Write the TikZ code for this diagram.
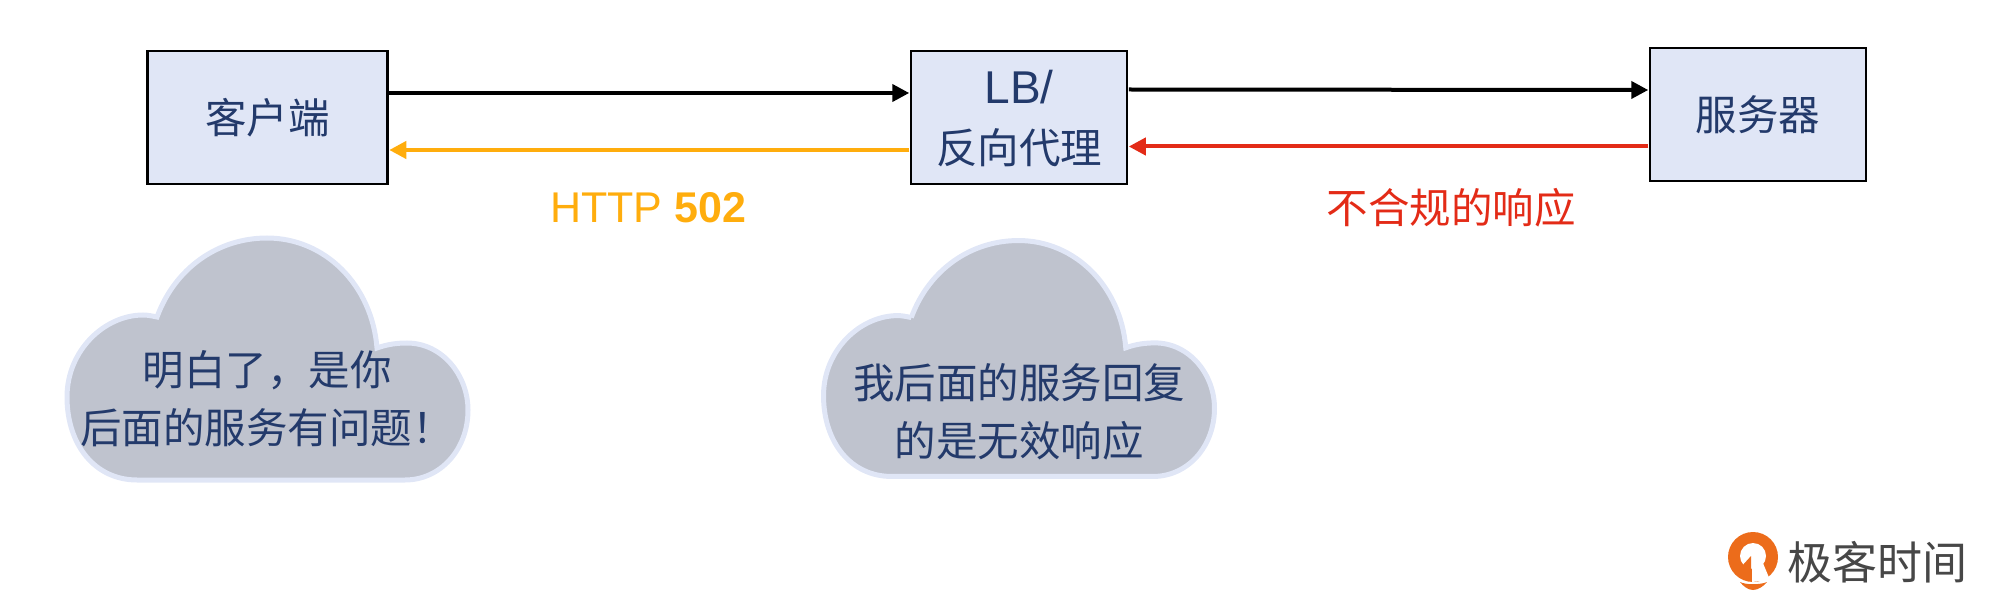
\documentclass[tikz,border=0pt]{standalone}
\usepackage{fontspec}
\usetikzlibrary{arrows.meta}
\setmainfont{Liberation Sans}
\newfontfamily\cjk{Noto Sans CJK SC}
\definecolor{boxfill}{HTML}{E0E6F6}
\definecolor{inktext}{HTML}{233A6B}
\definecolor{cloudfill}{HTML}{BFC3CE}
\definecolor{respyellow}{HTML}{FFAD0D}
\definecolor{respred}{HTML}{E32B17}
\definecolor{logoorange}{HTML}{EC6C1B}
\tikzset{
    hostbox/.style={draw=black,line width=2.5pt,fill=boxfill,text=inktext,inner sep=0pt,
        minimum height=133pt,align=center,font=\fontsize{41.5}{58}\selectfont\cjk},
    msgline/.style={line width=4pt,shorten >=.5pt,shorten <=.5pt,-{Triangle[length=17pt,width=17pt]}},
    cloudtext/.style={text=inktext,align=center,inner sep=0pt,font=\fontsize{41.5}{58}\selectfont\cjk},
    cloudshape/.pic={
        \draw[draw=boxfill,fill=cloudfill,line width=5pt] (-110.5,-42)
            .. controls (-92.5,-91) and (-49.5,-121) .. (-.5,-121)
            .. controls (57.5,-121) and (104.5,-74) .. (109.5,-11)
            .. controls (120.5,-15) and (130.5,-16) .. (139.5,-16)
            .. controls (174.5,-16) and (200.5,16) .. (200.5,51)
            .. controls (200.5,91) and (172.5,121) .. (137.5,121)
            -- (-130.5,121)
            .. controls (-172.5,121) and (-200.5,86) .. (-200.5,38)
            .. controls (-200.5,-9) and (-162.5,-44) .. (-124.5,-44)
            .. controls (-119.5,-44) and (-115.5,-43) .. cycle;
    }
}
\begin{document}
\begin{tikzpicture}[x=1pt,y=-1pt]
    \useasboundingbox (0,0) rectangle (2000,612);
    \node[hostbox,minimum width=240pt] (client) at (267.5,117.5) {客户端};
    \node[hostbox,minimum width=216pt] (proxy) at (1019,117.5) {\rule{0pt}{36pt}{\rmfamily\fontsize{46}{58}\selectfont LB/}\\[2pt]反向代理};
    \node[hostbox,minimum width=216pt] (server) at (1758,114.5) {服务器};

    \draw[msgline,black] ([yshift=24.5pt]client.east) -- ([yshift=24.5pt]proxy.west);
    \draw[msgline,respyellow] ([yshift=-32.5pt]proxy.west) -- ([yshift=-32.5pt]client.east);
    \draw[msgline,black] ([yshift=28pt]proxy.east) -- ([yshift=24.5pt]server.west);
    \draw[msgline,respred] ([yshift=-32pt]server.west) -- ([yshift=-29pt]proxy.east);

    \node[text=respyellow,inner sep=0pt,font=\fontsize{43}{50}\selectfont] (codelabel) at (648,208) {HTTP \textbf{502}};
    \node[text=respred,inner sep=0pt,font=\fontsize{41.5}{50}\selectfont\cjk] (badlabel) at (1451,208) {不合规的响应};

    \pic at (267.5,359) {cloudshape};
    \pic[scale=.975] at (1019,358.5) {cloudshape};
    \node[cloudtext] (clientsay) at (267,399) {明白了，是你\\后面的服务有问题！};
    \node[cloudtext] (proxysay) at (1019,412) {我后面的服务回复\\的是无效响应};

    \fill[logoorange] (1753,557) circle (25);
    \fill[white] (1753,556) circle (13);
    \fill[logoorange] (1751,556) -- (1751,578) -- (1741,567) -- cycle;
    \fill[white] (1752,556) -- (1760,556) -- (1770,580) -- (1752,582) -- cycle;
    \fill[logoorange] (1740,582) .. controls (1746,585) and (1760,585) .. (1767,582)
        .. controls (1764,586) and (1758,590) .. (1753,590)
        .. controls (1748,590) and (1743,586) .. (1740,582);
    \node[text=black!72,inner sep=0pt,font=\fontsize{45}{50}\selectfont\cjk] (brand) at (1877,562) {极客时间};
\end{tikzpicture}
\end{document}
